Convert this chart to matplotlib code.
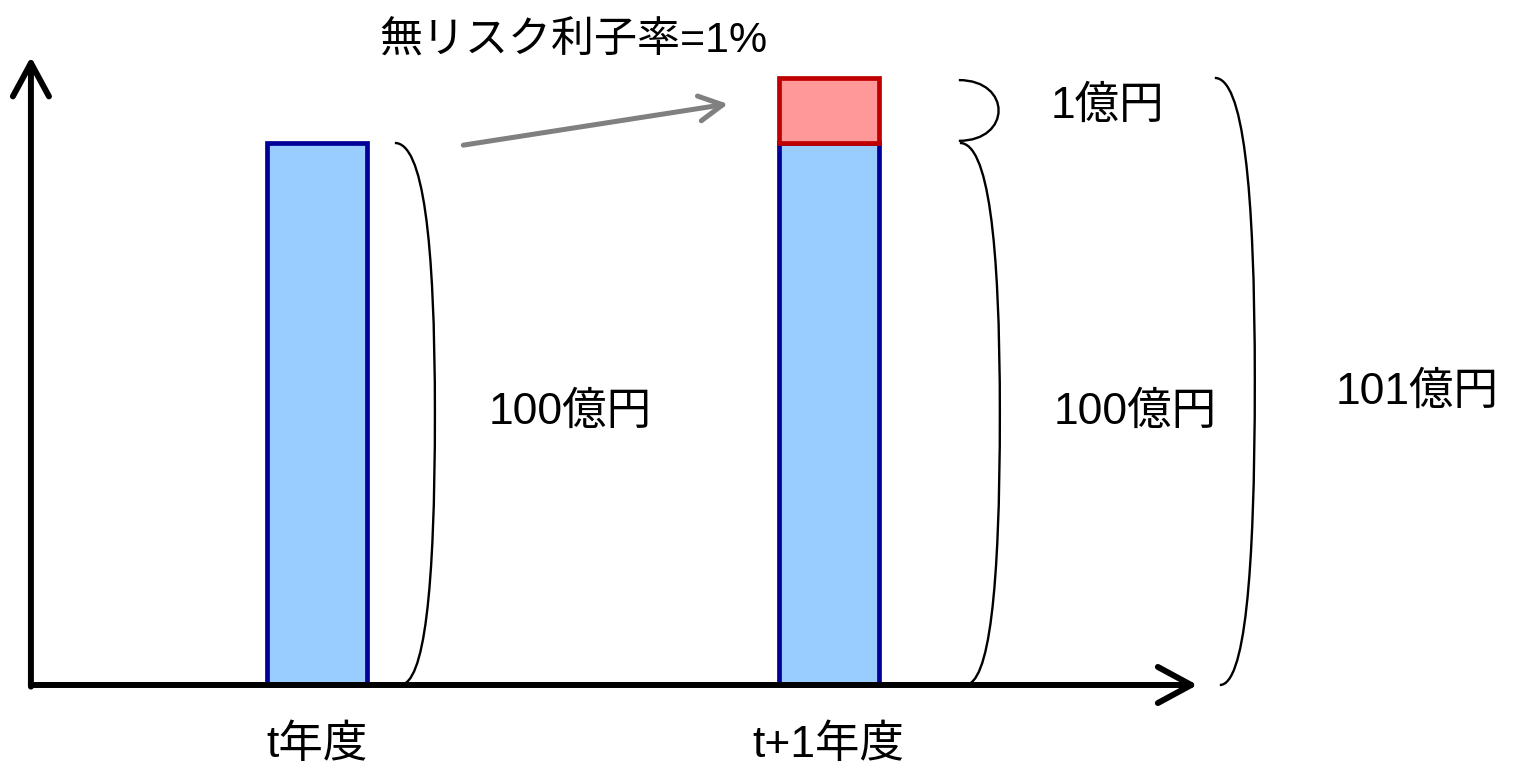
import numpy as np
import matplotlib.pyplot as plt
from matplotlib.patches import FancyArrowPatch, PathPatch
from matplotlib.path import Path

plt.rcParams['font.family'] = ['Liberation Sans', 'Noto Sans CJK JP', 'DejaVu Sans']

# data
periods = ['t年度', 't+1年度']
principal = [100, 100]        # 100億円 (drawn height)
interest = [0, 12]            # 1億円 (drawn height, not to scale)
principal_label = '100億円'
interest_label = '1億円'
total_label = '101億円'
rate_label = '無リスク利子率=1%'

BLUE = '#99CCFF'
BLUE_EDGE = '#000099'
RED = '#FF9999'
RED_EDGE = '#C00000'

fig = plt.figure(figsize=(15.2, 7.67), dpi=100)
ax = fig.add_axes([0, 0, 1, 1])
ax.set_xlim(-0.619, 2.350)
ax.set_ylim(-15.13, 126.38)
ax.axis('off')

x = np.arange(len(periods))
w = 0.195
ax.bar(x, principal, width=w, color=BLUE, edgecolor=BLUE_EDGE, linewidth=3.4, zorder=3)
top = np.array(principal) + np.array(interest)
ax.bar(x[1], interest[1], bottom=principal[1], width=w, color=RED,
       edgecolor=RED_EDGE, linewidth=3.4, zorder=3)

# axes arrows
axis_style = dict(arrowstyle='->,head_length=24,head_width=13', lw=4.3, color='black',
                  capstyle='round', joinstyle='round', shrinkA=0, shrinkB=0, zorder=5)
ax.add_patch(FancyArrowPatch((-0.5586, -0.3), (-0.5586, 115.9), **axis_style))
ax.add_patch(FancyArrowPatch((-0.5586, 0), (1.72, 0), **axis_style))

# interest arrow
ax.add_patch(FancyArrowPatch((0.286, 99.6), (0.803, 107.2),
                             arrowstyle='->,head_length=17,head_width=9', lw=3.6,
                             color='#808080', capstyle='round', joinstyle='round',
                             shrinkA=0, shrinkB=0, zorder=4))


def brace(x_top, y_top, x_bot, y_bot, bulge, y_mid=None):
    if y_mid is None:
        y_mid = (y_top + y_bot) / 2
    verts = [(x_top, y_top),
             (x_top + 0.7 * (bulge - x_top), y_top),
             (bulge, y_top - 0.35 * (y_top - y_mid)),
             (bulge, y_mid),
             (bulge, y_bot + 0.35 * (y_mid - y_bot)),
             (x_bot + 0.7 * (bulge - x_bot), y_bot),
             (x_bot, y_bot)]
    codes = [Path.MOVETO] + [Path.CURVE4] * 6
    ax.add_patch(PathPatch(Path(verts, codes), fill=False, lw=1.7, color='black', zorder=4))


brace(0.1523, principal[0], 0.1621, 0, 0.2305)
# small brace for interest
verts = [(1.2539, top[1] - 0.4), (1.3574, top[1] - 0.4), (1.3574, principal[1] + 0.4),
         (1.2539, principal[1] + 0.4)]
ax.add_patch(PathPatch(Path(verts, [Path.MOVETO] + [Path.CURVE4] * 3), fill=False,
                       lw=1.7, color='black', zorder=4))
brace(1.2559, principal[1], 1.2656, 0, 1.334)
brace(1.7539, top[1], 1.7637, 0, 1.832, y_mid=56)

fs = 32
ax.text(0.5, 118.6, rate_label, fontsize=31, ha='center', va='center')
ax.text(0.494, 50.4, principal_label, fontsize=fs, ha='center', va='center')
ax.text(1.598, 50.4, principal_label, fontsize=fs, ha='center', va='center')
ax.text(1.545, 106.8, interest_label, fontsize=fs, ha='center', va='center')
ax.text(2.150, 54.1, total_label, fontsize=fs, ha='center', va='center')
for i, p in enumerate(periods):
    ax.text(x[i], -11.07, p, fontsize=fs, ha='center', va='center')

fig.savefig('out.png', dpi=100)
